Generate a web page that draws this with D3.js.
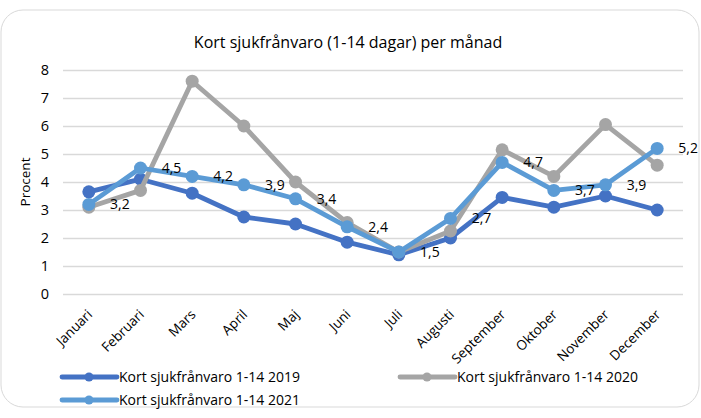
<!DOCTYPE html>
<html><head><meta charset="utf-8">
<script src="https://cdn.jsdelivr.net/npm/d3@7"></script>
<style>
html,body{margin:0;padding:0;background:#fff;}
svg text{font-family:"Open Sans",sans-serif;}
</style></head>
<body><svg id="c" width="701" height="418"></svg>
<script>
const months = ["Januari","Februari","Mars","April","Maj","Juni","Juli","Augusti","September","Oktober","November","December"];
const v2019 = [3.65,4.1,3.6,2.75,2.5,1.85,1.4,2.0,3.45,3.1,3.5,3.0];
const v2020 = [3.1,3.7,7.6,6.0,4.0,2.55,1.5,2.25,5.15,4.2,6.05,4.6];
const v2021 = [3.2,4.5,4.2,3.9,3.4,2.4,1.5,2.7,4.7,3.7,3.9,5.2];
const yTicks = [0,1,2,3,4,5,6,7,8];
const seriesNames = ["Kort sjukfrånvaro 1-14 2019","Kort sjukfrånvaro 1-14 2020","Kort sjukfrånvaro 1-14 2021"];
const colors = ["#4472C4","#A5A5A5","#5B9BD5"];
const title = "Kort sjukfrånvaro (1-14 dagar) per månad";
const yTitle = "Procent";

const svg = d3.select("#c");
svg.append("rect").attr("x",1).attr("y",10).attr("width",698).attr("height",397)
  .attr("rx",22).attr("fill","#fff").attr("stroke","#d9d9d9").attr("stroke-width",1);

const x = d3.scaleBand().domain(months).range([63,683]).padding(0);
const y = d3.scaleLinear().domain([0,8]).range([294,70]);
const cx = m => x(m) + x.bandwidth()/2;

svg.append("text").attr("x",348).attr("y",48).attr("text-anchor","middle")
  .attr("font-size",16).attr("fill","#000").text(title);

// grid
const yAxis = d3.axisLeft(y).tickValues(yTicks).tickSize(-(683-63)).tickPadding(12).tickFormat(d3.format("d"));
const gy = svg.append("g").attr("transform","translate(63,0)").call(yAxis);
gy.select(".domain").remove();
gy.selectAll(".tick line").attr("stroke","#d9d9d9").attr("stroke-width",1.5);
gy.selectAll(".tick text").attr("font-size",14.5).attr("fill","#000").attr("x",-14);

svg.append("text").attr("transform","translate(30,182) rotate(-90)").attr("text-anchor","middle")
  .attr("font-size",13.5).attr("fill","#000").text(yTitle);

// x labels
const xAxis = d3.axisBottom(x).tickSize(0).tickPadding(0);
const gx = svg.append("g").attr("transform","translate(0,294)").call(xAxis);
gx.select(".domain").remove();
gx.selectAll(".tick text").attr("font-size",13.5).attr("fill","#000")
  .attr("text-anchor","end").attr("dy","0.35em").attr("y",0)
  .attr("transform","translate(1,18) rotate(-45)");

const data = [v2019,v2020,v2021];
const line = d3.line().x((d,i)=>cx(months[i])).y(d=>y(d));
data.forEach((vals,k)=>{
  const g = svg.append("g");
  g.append("path").attr("d",line(vals)).attr("fill","none").attr("stroke",colors[k])
    .attr("stroke-width",4.8).attr("stroke-linejoin","round");
  g.selectAll("circle").data(vals).join("circle")
    .attr("cx",(d,i)=>cx(months[i])).attr("cy",d=>y(d)).attr("r",6.5).attr("fill",colors[k]);
});

// data labels for 2021
svg.append("g").selectAll("text").data(v2021).join("text")
  .attr("x",(d,i)=>cx(months[i])+31).attr("y",d=>y(d)).attr("dy","0.35em")
  .attr("text-anchor","middle").attr("font-size",14).attr("fill","#000")
  .text(d=>d3.format(".1f")(d).replace(".",","));

// legend
const legPos = [[62,377],[400,377],[62,400]];
seriesNames.forEach((n,k)=>{
  const [lx,ly] = legPos[k];
  const g = svg.append("g");
  g.append("line").attr("x1",lx).attr("x2",lx+55).attr("y1",ly).attr("y2",ly)
    .attr("stroke",colors[k]).attr("stroke-width",4.8).attr("stroke-linecap","round");
  g.append("circle").attr("cx",lx+27).attr("cy",ly).attr("r",4.5).attr("fill",colors[k]);
  g.append("text").attr("x",lx+57).attr("y",ly).attr("dy","0.35em").attr("font-size",14)
    .attr("fill","#000").text(n);
});
</script></body></html>
